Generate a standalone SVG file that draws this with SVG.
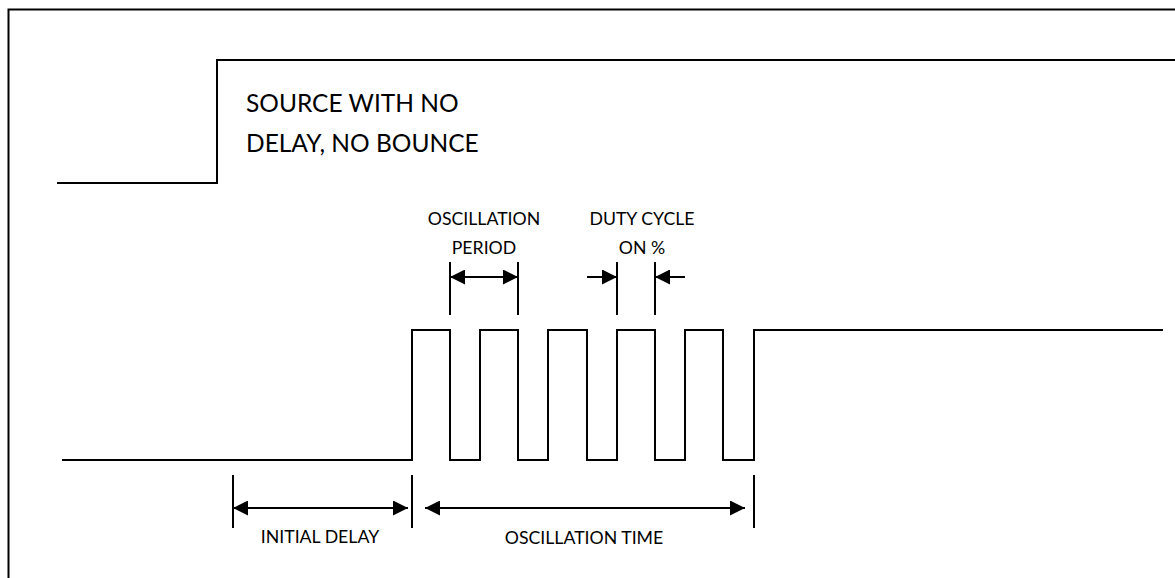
<svg xmlns="http://www.w3.org/2000/svg" width="1175" height="578" viewBox="0 0 1175 578">
<style>
.w{fill:none;stroke:#000;stroke-width:2;stroke-linejoin:miter}
.d{fill:none;stroke:#000;stroke-width:2}
.big{font-family:Lato,"Liberation Sans",sans-serif;font-size:24.5px;fill:#000}
.sm{font-family:Lato,"Liberation Sans",sans-serif;font-size:17.7px;fill:#000;text-anchor:middle}
</style>
<defs>
<marker id="ah" viewBox="0 0 15 15" refX="15" refY="7.5" markerWidth="15" markerHeight="15" markerUnits="userSpaceOnUse" orient="auto-start-reverse">
<path d="M0,0 L15,7.5 L0,15 Z" fill="#000"/>
</marker>
</defs>
<rect width="1175" height="578" fill="#fff"/>
<path d="M8.5,578 V9.5 H1175" fill="none" stroke="#000" stroke-width="2"/>
<g id="source">
<path class="w" d="M57,183 H217 V60 H1175"/>
<text class="big" x="246" y="112">SOURCE WITH NO</text>
<text class="big" x="246" y="152">DELAY, NO BOUNCE</text>
</g>
<g id="output">
<path class="w" d="M62,460 H412 V330 H450 V460 H480 V330 H518 V460 H548 V330 H587 V460 H617 V330 H655 V460 H685 V330 H723 V460 H754 V330 H1163"/>
</g>
<g id="connectors">
<path class="d" d="M450,262 V315 M518,262 V315 M617,262 V315 M655,262 V315"/>
<path class="d" d="M450,277 H518" marker-start="url(#ah)" marker-end="url(#ah)"/>
<path class="d" d="M587,277 H617" marker-end="url(#ah)"/>
<path class="d" d="M685,277 H655" marker-end="url(#ah)"/>
<path class="d" d="M233,475 V528 M412,475 V528 M754,475 V528"/>
<path class="d" d="M233,508 H408" marker-start="url(#ah)" marker-end="url(#ah)"/>
<path class="d" d="M425,508 H745" marker-start="url(#ah)" marker-end="url(#ah)"/>
</g>
<g id="labels">
<text class="sm" x="484" y="225">OSCILLATION</text>
<text class="sm" x="484" y="254">PERIOD</text>
<text class="sm" x="642" y="225">DUTY CYCLE</text>
<text class="sm" x="642" y="254">ON %</text>
<text class="sm" x="320" y="543">INITIAL DELAY</text>
<text class="sm" x="584" y="544">OSCILLATION TIME</text>
</g>
</svg>
